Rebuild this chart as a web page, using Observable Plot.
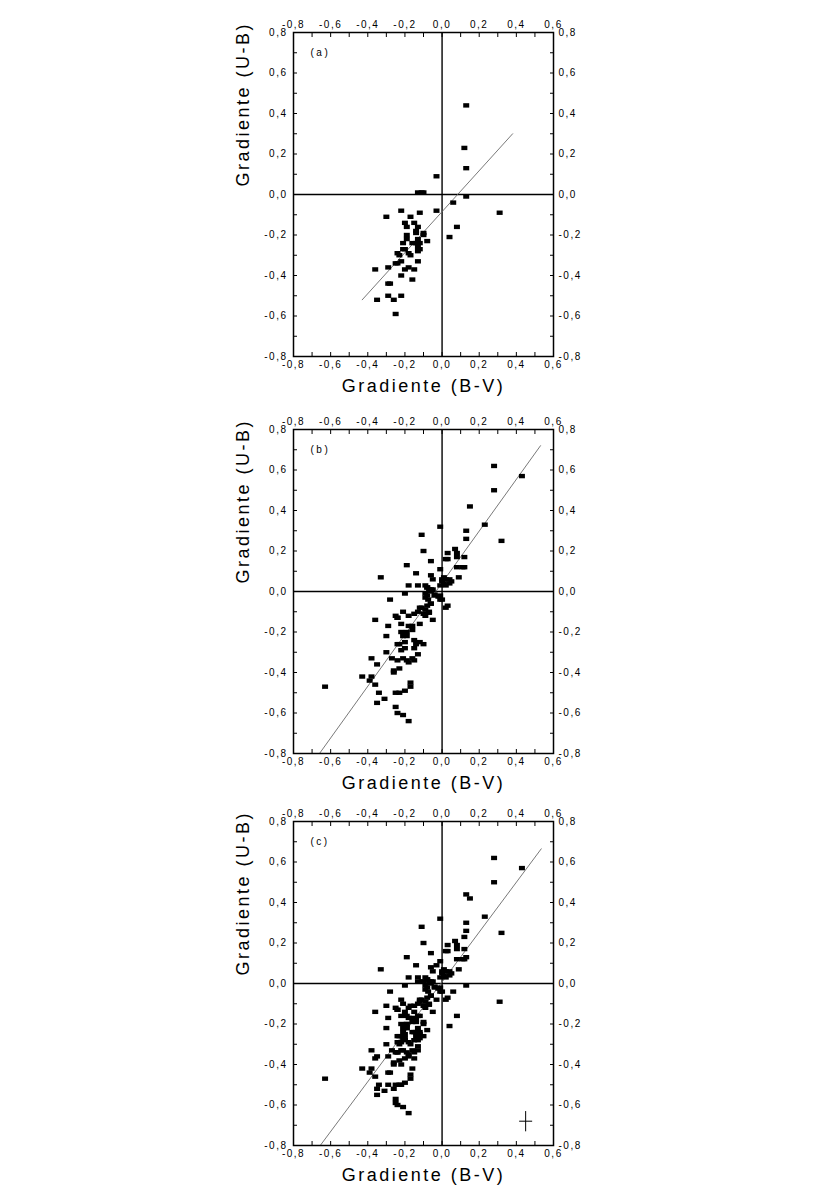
<!DOCTYPE html>
<html><head><meta charset="utf-8">
<script src="https://cdn.jsdelivr.net/npm/d3@7"></script>
<script src="https://cdn.jsdelivr.net/npm/@observablehq/plot@0.6"></script>
<style>
body{margin:0;background:#fff;}
#wrap{position:relative;width:835px;height:1199px;background:#fff;}
.panel{position:absolute;left:0;}
svg{font-family: Arial, "Liberation Sans", Helvetica, sans-serif;}
g[aria-label="x-axis tick label"] text, g[aria-label="y-axis tick label"] text{letter-spacing:1.5px;}
g[aria-label="text"] text{letter-spacing:2.5px;}
</style></head>
<body><div id="wrap"></div>
<script>
// ---- tick labels ----
const xTicks = [-0.8,-0.6,-0.4,-0.2,0.0,0.2,0.4,0.6];
const yTicks = [-0.8,-0.6,-0.4,-0.2,0.0,0.2,0.4,0.6,0.8];
const xMinor = [-0.8,-0.7,-0.6,-0.5,-0.4,-0.3,-0.2,-0.1,0.0,0.1,0.2,0.3,0.4,0.5,0.6];
const yMinor = [-0.8,-0.7,-0.6,-0.5,-0.4,-0.3,-0.2,-0.1,0.0,0.1,0.2,0.3,0.4,0.5,0.6,0.7,0.8];
const xLabel = "Gradiente (B-V)";
const yLabel = "Gradiente (U-B)";
const tags = ["(a)", "(b)", "(c)"];

// ---- panel (a) data ----
const bvA = [0.13,0.12,0.13,0.13,-0.03,-0.13,-0.11,-0.10,0.06,0.04,0.08,0.31,-0.03,-0.30,-0.22,-0.12,-0.17,-0.15,-0.20,-0.19,
  -0.13,-0.14,-0.14,-0.10,-0.10,-0.19,-0.19,-0.08,-0.13,-0.14,-0.12,-0.21,-0.16,-0.13,-0.13,-0.12,-0.21,-0.20,-0.24,-0.23,
  -0.18,-0.17,-0.22,-0.13,-0.25,-0.24,-0.29,-0.36,-0.20,-0.18,-0.15,-0.22,-0.16,-0.29,-0.28,-0.35,-0.29,-0.26,-0.22,-0.25];
const ubA = [0.44,0.23,0.13,-0.01,0.09,0.01,0.01,0.01,-0.04,-0.21,-0.16,-0.09,-0.08,-0.11,-0.08,-0.09,-0.11,-0.14,-0.14,-0.16,
  -0.16,-0.18,-0.19,-0.19,-0.20,-0.20,-0.22,-0.23,-0.22,-0.24,-0.24,-0.24,-0.24,-0.26,-0.28,-0.27,-0.27,-0.27,-0.29,-0.30,
  -0.29,-0.30,-0.33,-0.33,-0.34,-0.34,-0.36,-0.37,-0.37,-0.36,-0.37,-0.40,-0.42,-0.44,-0.44,-0.52,-0.50,-0.52,-0.50,-0.59];

// ---- panel (b) data ----
const bvB = [0.28,0.43,0.28,0.15,0.23,0.13,0.13,0.32,-0.01,-0.11,-0.10,0.03,0.07,0.08,0.08,0.12,0.03,0.02,-0.06,-0.19,
  0.11,0.12,0.08,-0.01,-0.14,0.09,-0.33,-0.06,-0.05,0.00,0.02,0.04,0.01,0.04,0.02,-0.18,-0.13,-0.08,-0.01,
  -0.63,-0.28,-0.20,-0.36,-0.29,-0.30,-0.30,-0.38,-0.35,-0.43,-0.38,-0.39,-0.36,-0.34,-0.31,-0.35,-0.27,-0.26,-0.26,-0.23,
  -0.25,-0.23,-0.20,-0.17,-0.17,-0.25,-0.24,-0.21,-0.18,
  -0.25,-0.24,-0.22,-0.21,-0.18,-0.16,-0.18,-0.15,-0.12,-0.10,-0.09,-0.12,-0.05,-0.09,-0.07,-0.06,-0.09,-0.08,-0.04,-0.01,
  -0.01,0.02,0.03,-0.05,-0.09,
  -0.22,-0.21,-0.19,-0.24,-0.23,-0.20,-0.22,-0.20,-0.15,-0.14,-0.12,-0.10,-0.15,-0.13,-0.24,-0.21,-0.19,-0.16,-0.15,-0.18,
  -0.075,-0.06,-0.04,-0.08,-0.11,-0.13,-0.07,-0.02,0.00,-0.06,-0.08,-0.16,-0.19,-0.24,-0.09,-0.07,-0.06,0.00,0.01,0.05];
const ubB = [0.62,0.57,0.50,0.42,0.33,0.30,0.26,0.25,0.32,0.28,0.20,0.19,0.21,0.19,0.17,0.17,0.16,0.16,0.15,0.13,
  0.12,0.12,0.12,0.11,0.09,0.07,0.07,0.08,0.06,0.06,0.06,0.06,0.04,0.04,0.03,0.03,0.03,0.02,0.03,
  -0.47,-0.04,-0.01,-0.14,-0.17,-0.22,-0.30,-0.33,-0.36,-0.42,-0.42,-0.44,-0.46,-0.50,-0.53,-0.55,-0.33,-0.39,-0.40,-0.38,
  -0.50,-0.50,-0.49,-0.47,-0.45,-0.57,-0.60,-0.61,-0.64,
  -0.12,-0.13,-0.16,-0.10,-0.12,-0.17,-0.17,-0.11,-0.08,-0.11,-0.12,-0.16,-0.14,-0.09,-0.10,-0.06,-0.03,-0.02,-0.02,-0.02,
  -0.04,-0.08,-0.07,0.01,-0.01,
  -0.20,-0.22,-0.22,-0.26,-0.26,-0.25,-0.29,-0.28,-0.24,-0.26,-0.25,-0.26,-0.28,-0.31,-0.34,-0.33,-0.34,-0.33,-0.34,-0.35,
  -0.04,-0.06,-0.015,-0.07,-0.08,-0.10,-0.105,-0.025,-0.04,0.01,0.02,-0.19,-0.20,-0.13,0.03,0.01,0.00,0.05,0.07,0.05];

// ---- fitted lines (end points) ----
const fitAx = [-0.43, 0.38], fitAy = [-0.52, 0.30];
const fitBx = [-0.66, 0.53], fitBy = [-0.80, 0.72];
const fitCx = [-0.656, 0.534], fitCy = [-0.80, 0.665];

// ---- typical error bar (panel c) ----
const errX = [0.45], errY = [-0.68], errDX = [0.035], errDY = [0.05];

const fmt = d => d.toFixed(1).replace(".", ",");
const rectSymbol = {draw(ctx) { ctx.rect(-3, -2.2, 6, 4.4); }};

function pts(bv, ub) { return bv.map((x, i) => ({x, y: ub[i]})); }
function line(xs, ys) { return xs.map((x, i) => ({x, y: ys[i]})); }

function panel(data, fit, tag, extra) {
  return Plot.plot({
    width: 835, height: 397,
    marginLeft: 293, marginRight: 282, marginTop: 32, marginBottom: 41,
    x: {domain: [-0.8, 0.6]},
    y: {domain: [-0.8, 0.8]},
    style: {background: "none", color: "#000", fontFamily: "Arial, 'Liberation Sans', sans-serif", overflow: "visible"},
    marks: [
      Plot.ruleX([0], {stroke: "#000", strokeWidth: 1.4}),
      Plot.ruleY([0], {stroke: "#000", strokeWidth: 1.4}),
      Plot.line(fit, {x: "x", y: "y", stroke: "#6a6a6a", strokeWidth: 0.9}),
      ...(extra || []),
      Plot.dot(data, {x: "x", y: "y", symbol: rectSymbol, fill: "#000", r: 3}),
      Plot.frame({stroke: "#000", strokeWidth: 1.5}),
      Plot.axisX({anchor: "bottom", ticks: xMinor, tickSize: -4, tickFormat: () => "", label: null}),
      Plot.axisX({anchor: "top", ticks: xMinor, tickSize: -4, tickFormat: () => "", label: null}),
      Plot.axisY({anchor: "left", ticks: yMinor, tickSize: -4, tickFormat: () => "", label: null}),
      Plot.axisY({anchor: "right", ticks: yMinor, tickSize: -4, tickFormat: () => "", label: null}),
      Plot.axisX({anchor: "bottom", ticks: xTicks, tickSize: 0, tickPadding: 4, tickFormat: fmt, label: null, fontSize: 10}),
      Plot.axisX({anchor: "top", ticks: xTicks, tickSize: 0, tickPadding: 5, tickFormat: fmt, label: null, fontSize: 10}),
      Plot.axisY({anchor: "left", ticks: yTicks, tickSize: 0, tickPadding: 6, tickFormat: fmt, label: null, fontSize: 10}),
      Plot.axisY({anchor: "right", ticks: yTicks, tickSize: 0, tickPadding: 5, tickFormat: fmt, label: null, fontSize: 10}),
      Plot.text([tag], {frameAnchor: "top-left", dx: 17, dy: 20, textAnchor: "start", lineAnchor: "middle", fontSize: 10, text: d => d}),
      Plot.text([xLabel], {frameAnchor: "bottom", dy: 30, lineAnchor: "middle", fontSize: 18, text: d => d}),
      Plot.text([yLabel], {frameAnchor: "left", dx: -50, dy: -8, rotate: -90, lineAnchor: "middle", fontSize: 18, text: d => d})
    ]
  });
}

const dataA = pts(bvA, ubA);
const dataB = pts(bvB, ubB);
const dataC = dataA.concat(dataB);

const errMarks = [
  Plot.link([0], {x1: () => errX[0] - errDX[0], x2: () => errX[0] + errDX[0], y1: () => errY[0], y2: () => errY[0], stroke: "#000", strokeWidth: 1}),
  Plot.link([0], {x1: () => errX[0], x2: () => errX[0], y1: () => errY[0] - errDY[0], y2: () => errY[0] + errDY[0], stroke: "#000", strokeWidth: 1})
];

const wrap = document.getElementById("wrap");
const tops = [0, 397, 789];
const charts = [
  panel(dataA, line(fitAx, fitAy), tags[0]),
  panel(dataB, line(fitBx, fitBy), tags[1]),
  panel(dataC, line(fitCx, fitCy), tags[2], errMarks)
];
charts.forEach((c, i) => {
  const d = document.createElement("div");
  d.className = "panel";
  d.style.top = tops[i] + "px";
  d.appendChild(c);
  wrap.appendChild(d);
});
</script>
</body></html>
